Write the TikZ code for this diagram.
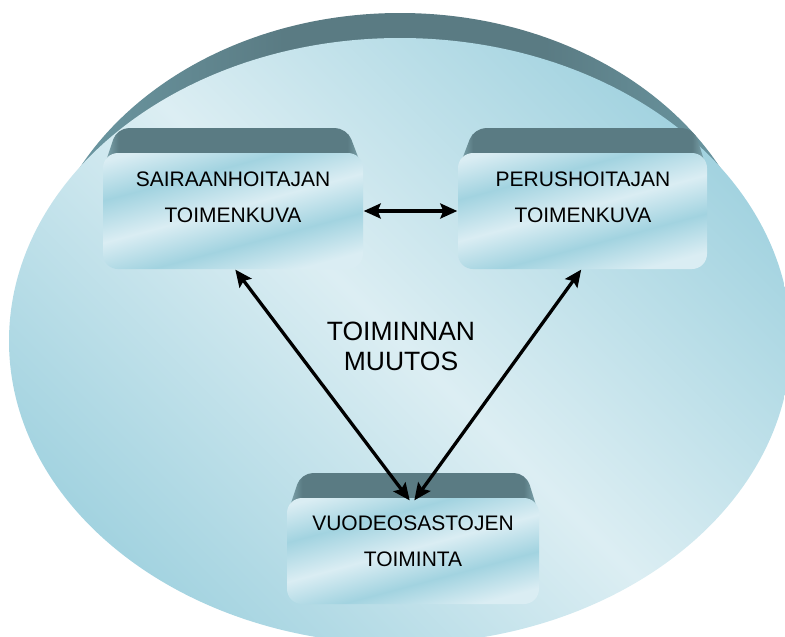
\documentclass[tikz,border=0pt]{standalone}
\usepackage{fontspec}
\setmainfont{Liberation Sans}
\usetikzlibrary{arrows.meta}
\definecolor{elight}{HTML}{DCEEF3}
\definecolor{edark}{HTML}{A3D3E0}
\definecolor{banddark}{HTML}{5A7B83}
\definecolor{bandlight}{HTML}{6E9CA7}
\definecolor{facelight}{HTML}{DAEDF3}
\definecolor{facedark}{HTML}{A2D3E0}
\definecolor{bevellight}{HTML}{86AFB8}
\pgfdeclarehorizontalshading{bandshade}{100bp}{color(0bp)=(bandlight); color(25bp)=(bandlight); color(42bp)=(banddark); color(60bp)=(banddark); color(75bp)=(bandlight); color(100bp)=(bandlight)}
\pgfdeclarehorizontalshading{bevelshade}{100bp}{color(0bp)=(bevellight); color(25bp)=(bevellight); color(28bp)=(banddark); color(72bp)=(banddark); color(75bp)=(bevellight); color(100bp)=(bevellight)}
\pgfdeclareverticalshading{faceshade}{100bp}{color(0bp)=(facelight); color(25bp)=(facelight); color(38bp)=(facedark); color(51bp)=(facelight); color(65bp)=(facedark); color(78bp)=(facelight); color(100bp)=(facelight)}
\tikzset{
  facebox/.style={shade, shading=faceshade, shading angle=15, rounded corners=15pt, inner sep=0pt},
  bevelbox/.style={shading=bevelshade, rounded corners=12pt},
  lbl/.style={font=\fontsize{21}{36}\selectfont, align=center, inner sep=0pt, text=black},
  ttl/.style={font=\fontsize{26.5}{30}\selectfont, align=center, inner sep=0pt, text=black},
  arr/.style={line width=3.3pt, {Stealth[length=17pt,width=15pt,inset=3pt]}-{Stealth[length=17pt,width=15pt,inset=3pt]}, shorten <=0.5pt, shorten >=0.5pt}
}
\begin{document}
\begin{tikzpicture}[x=1pt,y=-1pt]
\useasboundingbox (0,0) rectangle (785,637);
\begin{scope}
  \clip (0,0) rectangle (785,637);
  \shade[shading=bandshade] (400,303) ellipse [x radius=362, y radius=290];
  \shade[top color=edark, bottom color=edark, middle color=elight, shading angle=-45] (400,341) ellipse [x radius=391, y radius=303];
\end{scope}
% bevels
\shade[bevelbox] (103,170) -- (117,128) -- (347,128) -- (363,170) -- cycle;
\shade[bevelbox] (458,170) -- (474,128) -- (694,128) -- (707,170) -- cycle;
\shade[bevelbox] (287,515) -- (301,473) -- (526,473) -- (539,515) -- cycle;
% faces
\node[facebox, minimum width=260pt, minimum height=116pt] (b1) at (233,211) {};
\node[facebox, minimum width=249pt, minimum height=116pt] (b2) at (582.5,211) {};
\node[facebox, minimum width=252pt, minimum height=106pt] (b3) at (413,551) {};
% labels
\node[lbl, anchor=north] (t1) at (233,171.7) {SAIRAANHOITAJAN\\TOIMENKUVA};
\node[lbl, anchor=north] (t2) at (583,171.7) {PERUSHOITAJAN\\TOIMENKUVA};
\node[lbl, anchor=north] (t3) at (413,516) {VUODEOSASTOJEN\\TOIMINTA};
\node[ttl, anchor=north] (mid) at (401,322) {TOIMINNAN\\MUUTOS};
% arrows
\draw[arr] (b1.east) -- (b2.west);
\draw[arr] ([xshift=2pt]b1.south) -- ([xshift=-3pt,yshift=-3pt]b3.north);
\draw[arr] ([xshift=-1pt]b2.south) -- ([xshift=1pt,yshift=-3pt]b3.north);
\end{tikzpicture}
\end{document}
